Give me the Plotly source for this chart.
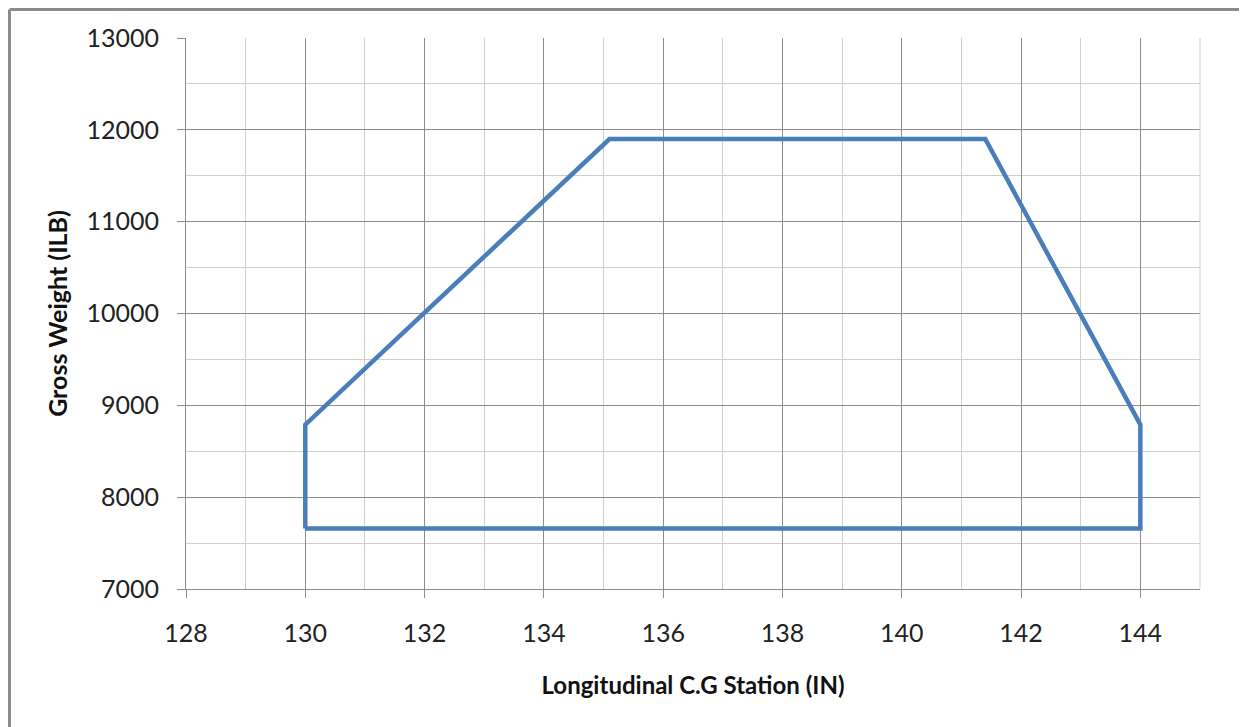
import plotly.graph_objects as go

cg_station = [130, 130, 135.1, 141.4, 144, 144, 130]
gross_weight = [7660, 8790, 11900, 11900, 8790, 7660, 7660]

x_ticks = [128, 130, 132, 134, 136, 138, 140, 142, 144]
y_ticks = [7000, 8000, 9000, 10000, 11000, 12000, 13000]

fig = go.Figure()
fig.add_trace(go.Scatter(x=cg_station, y=gross_weight, mode="lines",
                         line=dict(color="#4a7ebb", width=4.5), showlegend=False))

# page body has an 8px margin, so the figure is shifted by 8px
OFF = 8
W, H = 1247 - OFF, 727 - OFF
L, R, T, B = 186 - OFF, 47, 38 - OFF, 138
pw, ph = W - L - R, H - T - B

fig.update_layout(
    width=W, height=H,
    margin=dict(l=L, r=R, t=T, b=B),
    paper_bgcolor="white", plot_bgcolor="white",
    font=dict(family="Lato, Open Sans, sans-serif", size=25, color="#222"),
    xaxis=dict(range=[128, 145], tickvals=x_ticks, ticktext=[str(v) for v in x_ticks],
               showgrid=True, gridcolor="#8c8c8c", gridwidth=1,
               minor=dict(dtick=1, tick0=128, showgrid=True, gridcolor="#cfcfcf", gridwidth=1),
               ticks="outside", ticklen=8, tickcolor="#8c8c8c", ticklabelstandoff=14,
               showline=True, linecolor="#8c8c8c", zeroline=False,
               title=dict(text="<b>Longitudinal C.G Station (IN)</b>", font=dict(size=24, color="#111"), standoff=31)),
    yaxis=dict(range=[7000, 13000], tickvals=y_ticks, ticktext=[str(v) for v in y_ticks],
               showgrid=True, gridcolor="#8c8c8c", gridwidth=1,
               minor=dict(dtick=500, showgrid=True, gridcolor="#cfcfcf", gridwidth=1),
               ticks="outside", ticklen=8, tickcolor="#8c8c8c", ticklabelstandoff=13,
               showline=True, linecolor="#8c8c8c", zeroline=False,
               title=dict(text="<b>Gross Weight (ILB)</b>", font=dict(size=25, color="#111"), standoff=11)),
)

# right edge of plot area
fig.add_shape(type="line", xref="paper", yref="paper", x0=1, x1=1, y0=0, y1=1,
              line=dict(color="#cfcfcf", width=1))

# outer frame (left & top)
x_left = (1.5 - L) / pw
y_top = 1 + (T - 1.5) / ph
fig.add_shape(type="line", xref="paper", yref="paper", x0=x_left, x1=(W - L) / pw + 0.01,
              y0=y_top, y1=y_top, line=dict(color="#8c8c8c", width=3))
fig.add_shape(type="line", xref="paper", yref="paper", x0=x_left, x1=x_left,
              y0=y_top, y1=-(B + 5) / ph, line=dict(color="#8c8c8c", width=3))

fig.write_html("out.html")
